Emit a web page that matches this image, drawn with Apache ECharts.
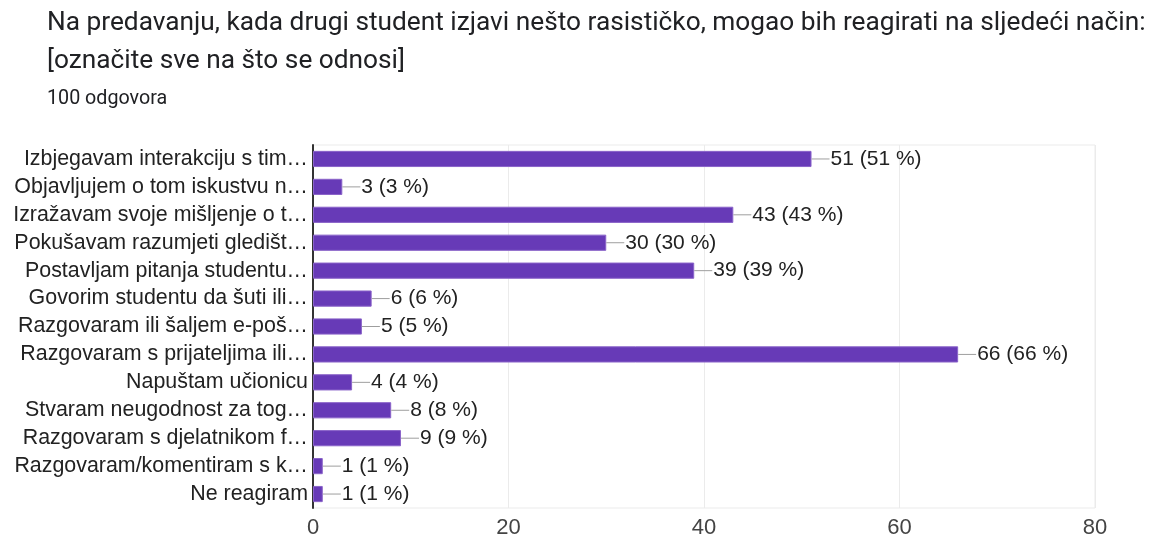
<!DOCTYPE html>
<html><head><meta charset="utf-8">
<script src="https://cdn.jsdelivr.net/npm/echarts@6/dist/echarts.min.js"></script>
<style>html,body{margin:0;padding:0;background:#fff}#c{width:1155px;height:542px}</style>
</head><body><div id="c"></div>
<script>
const titleLines = ["Na predavanju, kada drugi student izjavi nešto rasističko, mogao bih reagirati na sljedeći način:", "[označite sve na što se odnosi]"];
const subtitle = "100 odgovora";
const categories = [
  "Izbjegavam interakciju s tim…",
  "Objavljujem o tom iskustvu n…",
  "Izražavam svoje mišljenje o t…",
  "Pokušavam razumjeti gledišt…",
  "Postavljam pitanja studentu…",
  "Govorim studentu da šuti ili…",
  "Razgovaram ili šaljem e-poš…",
  "Razgovaram s prijateljima ili…",
  "Napuštam učionicu",
  "Stvaram neugodnost za tog…",
  "Razgovaram s djelatnikom f…",
  "Razgovaram/komentiram s k…",
  "Ne reagiram"
];
const counts = [51, 3, 43, 30, 39, 6, 5, 66, 4, 8, 9, 1, 1];
const total = 100;
const xTicks = [0, 20, 40, 60, 80];

const chart = echarts.init(document.getElementById('c'));
chart.setOption({
  animation: false,
  title: [
    {text: titleLines.join('\n'), left: 47, top: 4, padding: 0,
     textStyle: {fontFamily: 'Roboto', fontSize: 26.25, fontWeight: 'normal', color: '#202124', lineHeight: 38}},
    {text: subtitle, left: 47, top: 89, padding: 0,
     textStyle: {fontFamily: 'Roboto', fontSize: 19.7, fontWeight: 'normal', color: '#202124', lineHeight: 20}}
  ],
  grid: {left: 313, right: 60, top: 145, bottom: 34, show: true, borderColor: '#ebebeb', borderWidth: 1},
  xAxis: {
    type: 'value', min: xTicks[0], max: xTicks[xTicks.length - 1], interval: 20,
    axisLine: {show: false}, axisTick: {show: false},
    splitLine: {show: true, lineStyle: {color: '#ebebeb', width: 1}},
    axisLabel: {fontFamily: 'Liberation Sans', fontSize: 22, color: '#444', margin: 9}
  },
  yAxis: {
    type: 'category', inverse: true, data: categories,
    axisLine: {show: true, lineStyle: {color: '#333', width: 2}},
    axisTick: {show: false},
    axisLabel: {fontFamily: 'Liberation Sans', fontSize: 21.4, color: '#222', margin: 5}
  },
  series: [{
    type: 'bar', data: counts, barCategoryGap: '42%',
    itemStyle: {color: '#673ab7', borderColor: '#8a63c9', borderWidth: 1},
    label: {
      show: true, position: 'right', distance: 0,
      formatter: p => '{l|}{t|' + p.value + ' (' + Math.round(p.value / total * 100) + ' %)}',
      rich: {
        l: {width: 18, height: 1, backgroundColor: '#9e9e9e'},
        t: {fontFamily: 'Liberation Sans', fontSize: 21, color: '#222', padding: [0, 0, 0, 1]}
      }
    }
  }]
});
</script></body></html>
